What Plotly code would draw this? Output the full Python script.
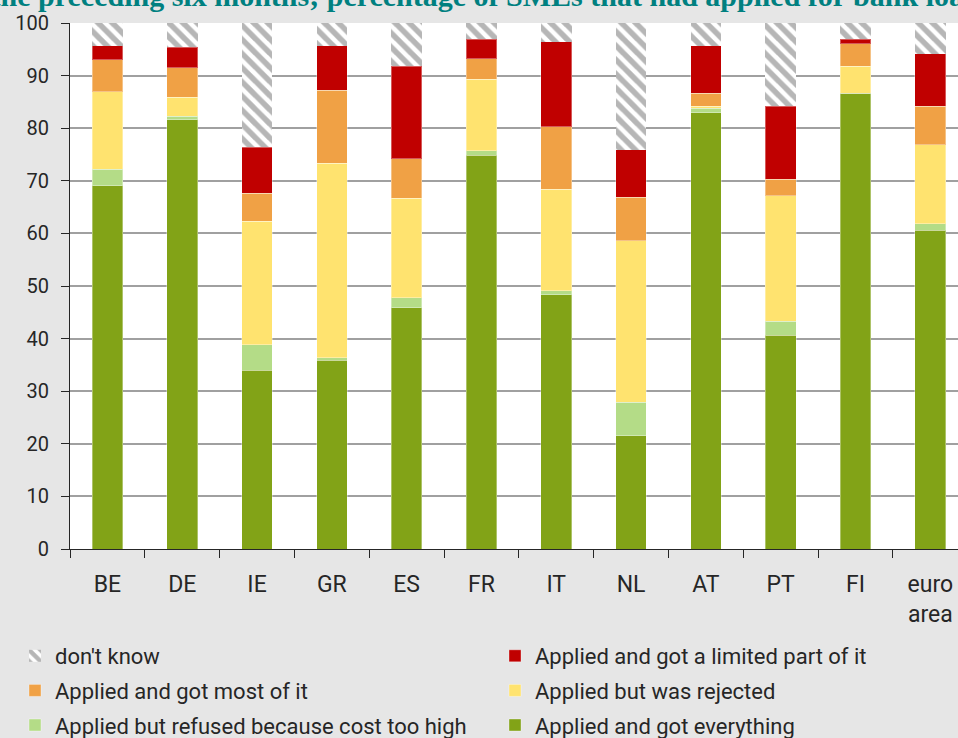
import plotly.graph_objects as go

countries = ["BE", "DE", "IE", "GR", "ES", "FR", "IT", "NL", "AT", "PT", "FI", "euro<br>area"]

got_everything = [69.1, 81.6, 34.0, 35.9, 45.9, 74.9, 48.3, 21.5, 82.9, 40.6, 86.6, 60.6]
refused_cost = [3.1, 0.7, 4.8, 0.5, 1.9, 0.8, 0.8, 6.4, 0.9, 2.7, 0.0, 1.2]
rejected = [14.7, 3.6, 23.5, 36.9, 18.9, 13.6, 19.3, 30.7, 0.4, 23.9, 5.2, 15.1]
got_most = [6.1, 5.6, 5.3, 13.9, 7.5, 3.9, 11.9, 8.3, 2.4, 3.1, 4.3, 7.3]
limited_part = [2.7, 3.9, 8.8, 8.5, 17.6, 3.7, 16.1, 9.0, 9.1, 13.9, 0.8, 10.0]
dont_know = [4.3, 4.6, 23.6, 4.3, 8.2, 3.1, 3.6, 24.1, 4.3, 15.8, 3.1, 5.8]

# (name, values, colour, legend, legend rank)
series = [
    ("Applied and got everything", got_everything, "#82A317", "legend2", 3),
    ("Applied but refused because cost too high", refused_cost, "#B4DC87", "legend", 3),
    ("Applied but was rejected", rejected, "#FFE36F", "legend2", 2),
    ("Applied and got most of it", got_most, "#F0A145", "legend", 2),
    ("Applied and got a limited part of it", limited_part, "#C00000", "legend2", 1),
]

FONT = "Roboto, Lato, sans-serif"
TXT = "#262626"

fig = go.Figure()
for name, vals, col, lg, rank in series:
    fig.add_trace(go.Bar(
        x=countries, y=vals, name=name, legend=lg, legendgroup=name, legendrank=rank,
        marker=dict(color=col, line=dict(color="rgba(255,255,255,0.35)", width=1)),
        width=0.41,
    ))
fig.add_trace(go.Bar(
    x=countries, y=dont_know, name="don't know", legend="legend", legendgroup="dk", legendrank=1,
    marker=dict(color="white", line=dict(color="rgba(255,255,255,0)", width=0),
                pattern=dict(shape="\\", fgcolor="#6E6E6E", bgcolor="white", size=10, solidity=0.55)),
    width=0.41,
))

legend_common = dict(
    font=dict(family=FONT, size=22, color=TXT),
    bgcolor="rgba(0,0,0,0)",
    traceorder="grouped",
    tracegroupgap=3,
    yanchor="top", xanchor="left",
    itemwidth=30,
)

fig.update_layout(
    width=958, height=738,
    barmode="stack",
    paper_bgcolor="#E6E6E6",
    plot_bgcolor="white",
    margin=dict(l=70, r=0, t=23, b=189, pad=0, autoexpand=False),
    font=dict(family=FONT, size=20, color=TXT),
    xaxis=dict(
        range=[-0.5, 11.37],
        showline=True, linecolor="#262626", linewidth=1,
        ticks="outside", tickson="boundaries", ticklen=8, tickcolor="#262626",
        tickfont=dict(family=FONT, size=23, color=TXT),
        ticklabelstandoff=14,
        tickangle=0,
        showgrid=False,
        automargin=False,
    ),
    yaxis=dict(
        range=[0, 100], dtick=10,
        showline=True, linecolor="#262626", linewidth=1,
        ticks="outside", ticklen=8, tickcolor="#262626",
        tickfont=dict(family=FONT, size=20, color=TXT),
        ticklabelstandoff=8,
        showgrid=True, gridcolor="#A0A0A0", gridwidth=2,
        zeroline=False,
        automargin=False,
    ),
    legend=dict(legend_common, x=(15 - 70) / 888, y=(549 - 635) / 526),
    legend2=dict(legend_common, x=(495 - 70) / 888, y=(549 - 635) / 526),
    showlegend=True,
    annotations=[dict(
        text="<b>over the preceding six months; percentage of SMEs that had applied for bank loans)</b>",
        xref="paper", yref="paper", x=-0.1628, y=1.0156,
        xanchor="left", yanchor="bottom", showarrow=False,
        font=dict(family="Liberation Serif, DejaVu Serif, serif", size=30, color="#008080"),
    )],
)

fig.write_html("out.html", config={"displayModeBar": False},
               post_script="document.body.style.margin='0';")
